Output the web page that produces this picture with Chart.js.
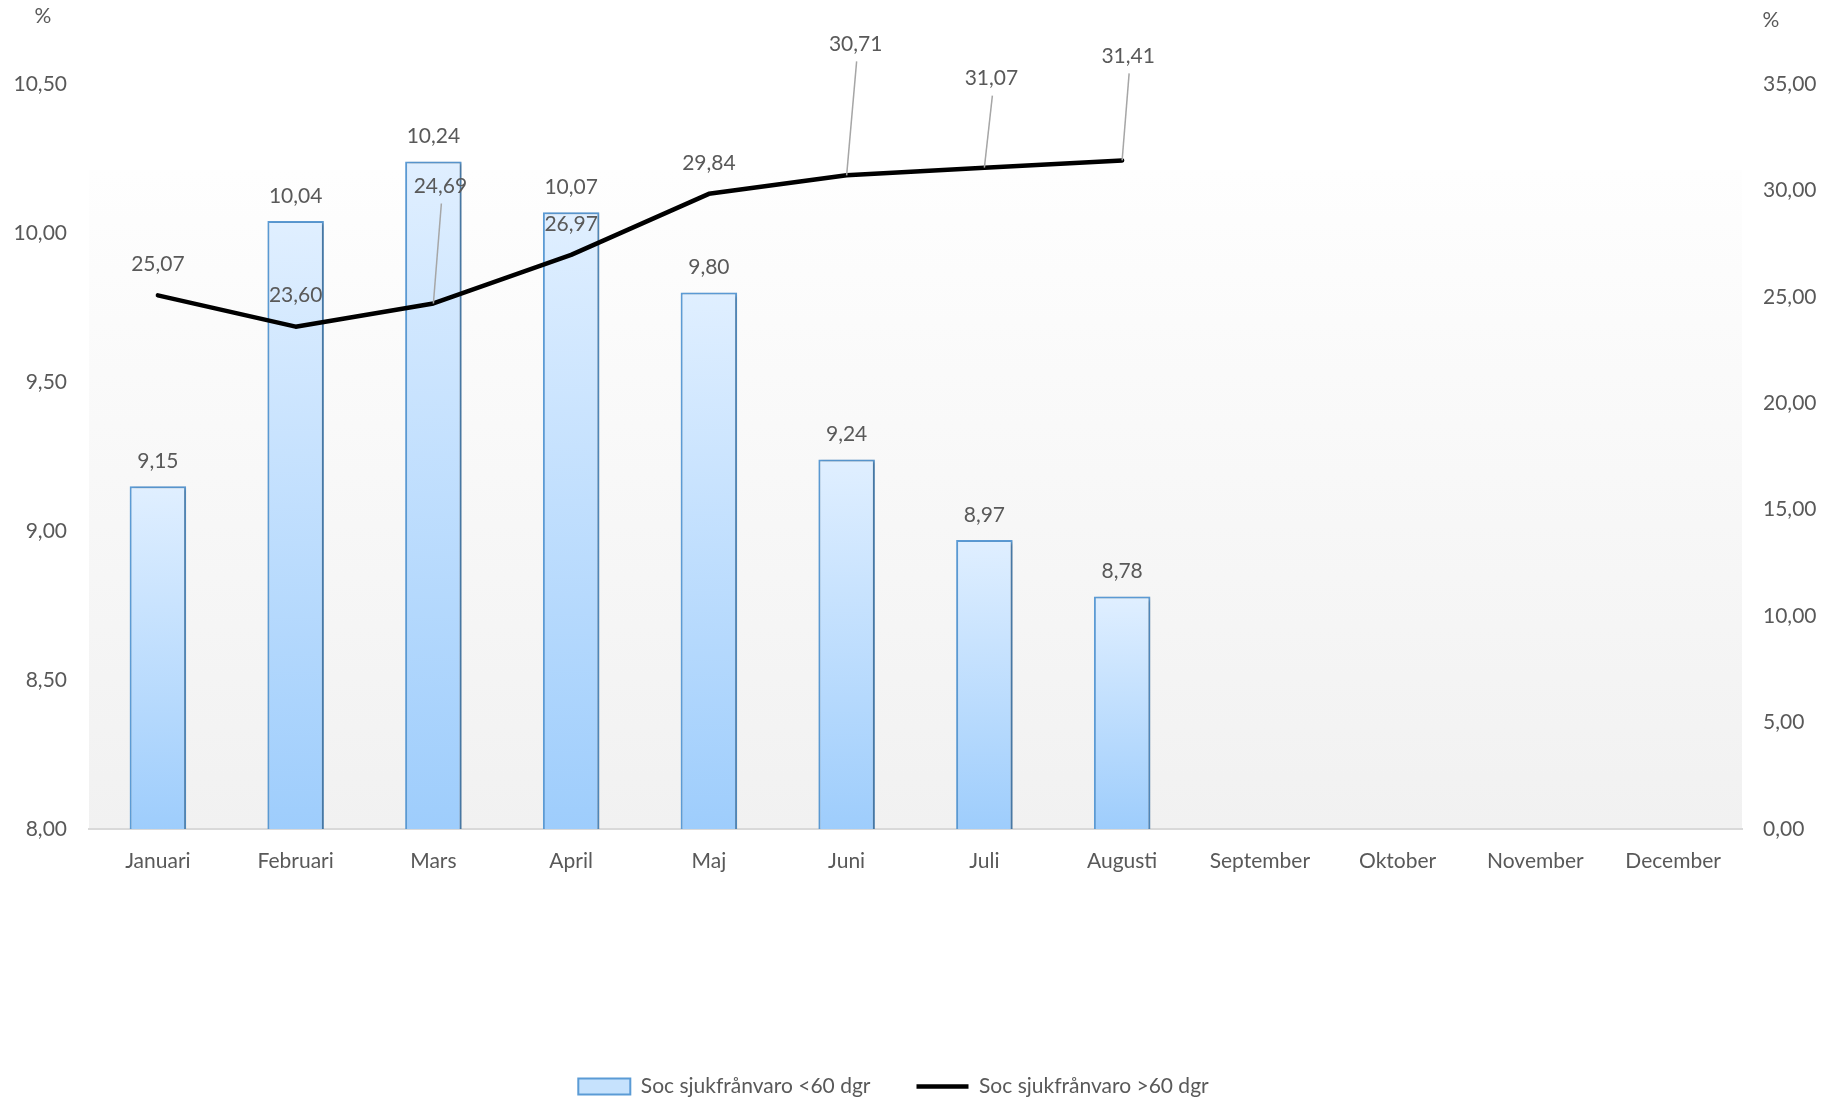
<!DOCTYPE html>
<html>
<head>
<meta charset="utf-8">
<title>Sjukfrånvaro</title>
<script src="https://cdn.jsdelivr.net/npm/chart.js@4.4.1/dist/chart.umd.min.js"></script>
<style>
    html, body { margin: 0; padding: 0; background: #ffffff; }
    #wrap { width: 1839px; height: 1103px; position: relative; }
</style>
</head>
<body>
<div id="wrap"><canvas id="chart"></canvas></div>
<script>
// Data
const months = ['Januari', 'Februari', 'Mars', 'April', 'Maj', 'Juni', 'Juli', 'Augusti',
    'September', 'Oktober', 'November', 'December'];
const shortLeave = [9.15, 10.04, 10.24, 10.07, 9.80, 9.24, 8.97, 8.78];
const longLeave = [25.07, 23.60, 24.69, 26.97, 29.84, 30.71, 31.07, 31.41];
const shortLabel = 'Soc sjukfrånvaro <60 dgr';
const longLabel = 'Soc sjukfrånvaro >60 dgr';
const leftTicks = [8.0, 10.5, 0.5];   // min, max, step
const rightTicks = [0, 35, 5];

// where the line labels sit relative to their point (px), and whether a leader line is drawn
const lineLabelOffsets = [
    [0, -31, false], [0, -31, false], [7, -117, true], [0, -31, false],
    [0, -31, false], [9, -131, true], [7, -89, true], [6, -104, true]
];

const textColor = '#595959';
const fontFamily = 'Lato, "Open Sans", sans-serif';
const fontSize = 21;

function fmt(v) {
    return Number(v).toFixed(2).replace('.', ',');
}

// plot area background: white at the top fading to light grey
const backgroundPlugin = {
    id: 'plotBackground',
    beforeDraw(chart) {
        const a = chart.chartArea;
        const ctx = chart.ctx;
        const top = a.top + (a.bottom - a.top) * 0.1154;
        const g = ctx.createLinearGradient(0, top, 0, a.bottom);
        g.addColorStop(0, '#fefefe');
        g.addColorStop(1, '#f1f1f1');
        ctx.save();
        ctx.fillStyle = g;
        ctx.fillRect(a.left, top, a.right - a.left, a.bottom - top);
        ctx.restore();
    }
};

// soft shadow on the bars
const shadowPlugin = {
    id: 'barShadow',
    beforeDatasetDraw(chart, args) {
        if (args.meta.type !== 'bar') return;
        const ctx = chart.ctx;
        ctx.save();
        ctx.shadowColor = 'rgba(0,0,0,0.28)';
        ctx.shadowBlur = 3;
        ctx.shadowOffsetX = 2;
        ctx.shadowOffsetY = 1;
    },
    afterDatasetDraw(chart, args) {
        if (args.meta.type !== 'bar') return;
        chart.ctx.restore();
    }
};

// the legend sits a bit left of centre in the original
const legendShift = {
    id: 'legendShift',
    afterLayout(chart) {
        if (!chart.legend) return;
        chart.legend.left -= 26;
        chart.legend.right -= 26;
    }
};

// value labels + "%" axis captions
const labelsPlugin = {
    id: 'valueLabels',
    afterDatasetsDraw(chart) {
        const ctx = chart.ctx;
        ctx.save();
        ctx.font = fontSize + 'px ' + fontFamily;
        ctx.fillStyle = textColor;
        ctx.textAlign = 'center';
        ctx.textBaseline = 'middle';

        const barMeta = chart.getDatasetMeta(0);
        barMeta.data.forEach((bar, i) => {
            ctx.fillText(fmt(shortLeave[i]), bar.x, bar.y - 25);
        });

        const lineMeta = chart.getDatasetMeta(1);
        lineMeta.data.forEach((pt, i) => {
            const off = lineLabelOffsets[i];
            const lx = pt.x + off[0];
            const ly = pt.y + off[1];
            if (off[2]) {
                ctx.strokeStyle = '#a6a6a6';
                ctx.lineWidth = 1.5;
                ctx.beginPath();
                ctx.moveTo(lx + 1, ly + 17);
                ctx.lineTo(pt.x, pt.y);
                ctx.stroke();
            }
            ctx.fillText(fmt(longLeave[i]), lx, ly);
        });

        const a = chart.chartArea;
        ctx.fillText('%', a.left - 46, a.top - 68);
        ctx.fillText('%', a.right + 29, a.top - 64);
        ctx.restore();
    }
};

function initChart() {
    const ctx = document.getElementById('chart').getContext('2d');

    return new Chart(ctx, {
        data: {
            labels: months,
            datasets: [{
                type: 'bar',
                label: shortLabel,
                data: shortLeave,
                yAxisID: 'y',
                order: 1,
                backgroundColor: function (context) {
                    const chart = context.chart;
                    const area = chart.chartArea;
                    const scale = chart.scales.y;
                    if (!area || !scale || context.type !== 'data') return '#c4e1fe';
                    const top = scale.getPixelForValue(context.raw);
                    const g = chart.ctx.createLinearGradient(0, top, 0, area.bottom);
                    g.addColorStop(0, '#e0efff');
                    g.addColorStop(1, '#9ecdfc');
                    return g;
                },
                borderColor: '#5b9bd5',
                borderWidth: 2,
                borderSkipped: 'bottom',
                barPercentage: 0.41,
                categoryPercentage: 1.0
            }, {
                type: 'line',
                label: longLabel,
                data: longLeave,
                yAxisID: 'y1',
                order: 0,
                borderColor: '#000000',
                borderWidth: 4.5,
                borderJoinStyle: 'round',
                borderCapStyle: 'round',
                pointRadius: 0,
                tension: 0,
                fill: false
            }]
        },
        options: {
            responsive: true,
            maintainAspectRatio: false,
            animation: false,
            layout: {
                padding: { top: 84, left: 0, right: 0, bottom: -4 }
            },
            scales: {
                x: {
                    offset: true,
                    grid: { display: false, drawTicks: false },
                    border: { display: true, color: '#d9d9d9', width: 2 },
                    ticks: {
                        color: textColor,
                        padding: 20,
                        maxRotation: 0,
                        autoSkip: false,
                        font: { family: fontFamily, size: fontSize }
                    },
                    afterFit(scale) { scale.height = 201; }
                },
                y: {
                    position: 'left',
                    min: leftTicks[0],
                    max: leftTicks[1],
                    grid: { display: false, drawTicks: false },
                    border: { display: false },
                    ticks: {
                        stepSize: leftTicks[2],
                        color: textColor,
                        padding: 22,
                        font: { family: fontFamily, size: fontSize },
                        callback: (v) => fmt(v)
                    },
                    afterFit(scale) { scale.width = 89; }
                },
                y1: {
                    position: 'right',
                    min: rightTicks[0],
                    max: rightTicks[1],
                    grid: { display: false, drawTicks: false },
                    border: { display: false },
                    ticks: {
                        stepSize: rightTicks[2],
                        color: textColor,
                        padding: 21,
                        font: { family: fontFamily, size: fontSize },
                        callback: (v) => fmt(v)
                    },
                    afterFit(scale) { scale.width = 97; }
                }
            },
            plugins: {
                tooltip: { enabled: false },
                legend: {
                    position: 'bottom',
                    labels: {
                        color: textColor,
                        font: { family: fontFamily, size: fontSize },
                        usePointStyle: true,
                        pointStyleWidth: 52,
                        boxHeight: 16,
                        padding: 46,
                        generateLabels() {
                            return [{
                                text: shortLabel,
                                fillStyle: '#c6e2fd',
                                strokeStyle: '#5b9bd5',
                                lineWidth: 2,
                                pointStyle: 'rect',
                                fontColor: textColor,
                                datasetIndex: 0
                            }, {
                                text: longLabel,
                                fillStyle: '#000000',
                                strokeStyle: '#000000',
                                lineWidth: 4.5,
                                pointStyle: 'line',
                                fontColor: textColor,
                                datasetIndex: 1
                            }];
                        }
                    }
                }
            }
        },
        plugins: [backgroundPlugin, shadowPlugin, legendShift, labelsPlugin]
    });
}

document.addEventListener('DOMContentLoaded', () => {
    initChart();
});
</script>
</body>
</html>
